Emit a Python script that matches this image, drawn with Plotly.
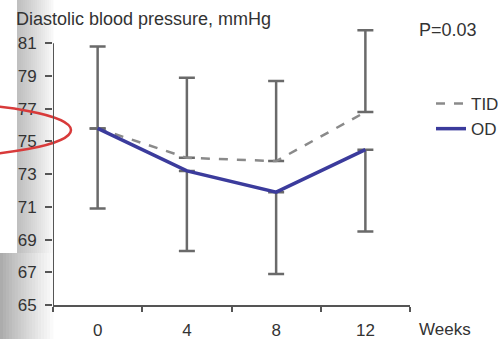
import plotly.graph_objects as go

weeks = [0, 4, 8, 12]
tid = [75.8, 74.0, 73.8, 76.8]
od = [75.8, 73.2, 71.9, 74.5]
tid_err_up = [5.0, 4.9, 4.9, 5.0]
od_err_down = [4.9, 4.9, 5.0, 5.0]
y_ticks = [65, 67, 69, 71, 73, 75, 77, 79, 81]
x_labels = ["0", "4", "8", "12"]

W, H = 498, 339
L, R, T, B = 53, 88, 27, 34
PW, PH = W - L - R, H - T - B

def px(x):
    return (x - L) / PW

def py(y):
    return (H - B - y) / PH

FONT = "Liberation Sans, Arial, sans-serif"
TXT = "#333333"
ERR = "#6a6a6a"
AX = "#555555"

fig = go.Figure()
fig.add_trace(go.Scatter(
    x=weeks, y=tid, mode="lines", name="TID",
    line=dict(color="#8a8a8a", width=2.5, dash="dash"),
    error_y=dict(type="data", symmetric=False, array=tid_err_up,
                 arrayminus=[0] * len(tid), color=ERR, thickness=2.5, width=8),
))
fig.add_trace(go.Scatter(
    x=weeks, y=od, mode="lines", name="OD",
    line=dict(color="#3b3b9c", width=3.5),
    error_y=dict(type="data", symmetric=False, array=[0] * len(od),
                 arrayminus=od_err_down, color=ERR, thickness=2.5, width=8),
))

shapes = []

def gray(v):
    v = int(max(0, min(255, v)))
    return f"rgb({v},{v},{v})"

# scan artifact: gray gradient strip on the left
n = 18
for i in range(n):
    x0 = 17 + i * (36 / n)
    x1 = 17 + (i + 1) * (36 / n) + 0.5
    t = i / (n - 1)
    v = 192 + (248 - 192) * t ** 1.1
    shapes.append(dict(type="rect", xref="paper", yref="paper", layer="below",
                       x0=px(x0), x1=px(x1), y0=py(253), y1=py(0),
                       fillcolor=gray(v), line=dict(width=0)))
for i in range(n):
    x0 = 0 + i * (53 / n)
    x1 = 0 + (i + 1) * (53 / n) + 0.5
    t = i / (n - 1)
    v = 172 + (250 - 172) * t ** 0.9
    shapes.append(dict(type="rect", xref="paper", yref="paper", layer="below",
                       x0=px(x0), x1=px(x1), y0=py(H), y1=py(253),
                       fillcolor=gray(v), line=dict(width=0)))
# red ellipse
shapes.append(dict(type="circle", xref="paper", yref="paper", layer="above",
                   x0=px(-224), x1=px(71), y0=py(157), y1=py(103),
                   line=dict(color="#d83a3a", width=2.5)))
# y axis line from 65 to 81
shapes.append(dict(type="line", xref="x", yref="y", x0=-2, x1=-2, y0=64.5, y1=81,
                   line=dict(color=AX, width=2)))

annotations = [
    dict(text="Diastolic blood pressure, mmHg", xref="paper", yref="paper",
         x=px(14), y=py(19), xanchor="left", yanchor="middle", showarrow=False,
         font=dict(family=FONT, size=18, color=TXT)),
    dict(text="P=0.03", xref="paper", yref="paper",
         x=px(417), y=py(30), xanchor="left", yanchor="middle", showarrow=False,
         font=dict(family=FONT, size=18, color=TXT)),
    dict(text="Weeks", xref="paper", yref="paper",
         x=px(417), y=py(330), xanchor="left", yanchor="middle", showarrow=False,
         font=dict(family=FONT, size=17, color=TXT)),
]

fig.update_layout(
    template="none",
    width=W, height=H,
    margin=dict(l=L, r=R, t=T, b=B, pad=0, autoexpand=False),
    paper_bgcolor="white", plot_bgcolor="rgba(0,0,0,0)",
    shapes=shapes, annotations=annotations,
    showlegend=True,
    legend=dict(x=px(431), y=py(86), xanchor="left", yanchor="top",
                font=dict(family=FONT, size=17, color=TXT),
                bgcolor="rgba(0,0,0,0)", borderwidth=0,
                tracegroupgap=0, itemwidth=30),
    xaxis=dict(range=[-2, 14], tickvals=weeks, ticktext=x_labels, ticks="",
               showline=True, linecolor=AX, linewidth=2, automargin=False,
               showgrid=False, zeroline=False,
               tickfont=dict(family=FONT, size=17, color=TXT),
               ticklabelstandoff=9,
               minor=dict(tickvals=[-2, 2, 6, 10, 14], ticks="outside",
                          ticklen=5, tickwidth=2, tickcolor=AX, showgrid=False)),
    yaxis=dict(range=[65, 82], tickvals=y_ticks, ticks="outside", ticklen=7,
               tickwidth=2, tickcolor=AX, showline=False, automargin=False,
               showgrid=False, zeroline=False,
               tickfont=dict(family=FONT, size=17, color=TXT),
               ticklabelstandoff=5),
)

fig.write_html("out.html", config={"displayModeBar": False},
               post_script="document.body.style.margin='0px';")
